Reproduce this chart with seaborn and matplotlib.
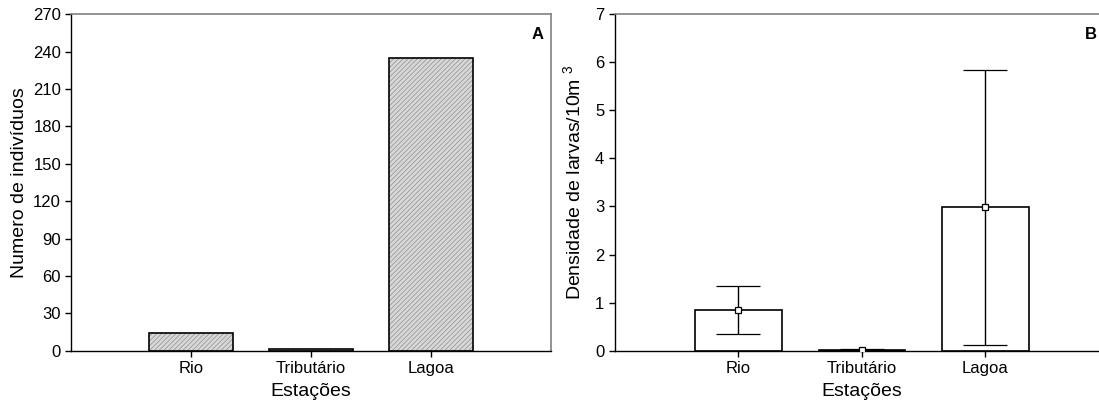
import matplotlib
matplotlib.use("Agg")
import matplotlib.pyplot as plt
import numpy as np
import seaborn as sns

# Data
estacoes = ["Rio", "Tributário", "Lagoa"]
numero_individuos = [14, 1, 235]
densidade_media = [0.84, 0.01, 2.98]
densidade_erro = [0.50, 0.03, 2.86]

sns.set_style("white")
plt.rcParams["font.family"] = ["Liberation Sans", "DejaVu Sans"]
plt.rcParams["mathtext.fontset"] = "custom"
plt.rcParams["mathtext.rm"] = "Liberation Sans"
plt.rcParams["mathtext.it"] = "Liberation Sans"
plt.rcParams["text.color"] = "black"
plt.rcParams["axes.labelcolor"] = "black"
plt.rcParams["hatch.linewidth"] = 0.6

fig = plt.figure(figsize=(10.99, 4.05), dpi=100)
ax_a = fig.add_axes([0.065, 0.134, 0.436, 0.831])
ax_b = fig.add_axes([0.5594, 0.134, 0.4497, 0.831])


def style_axes(ax, yticks):
    ax.set_xlim(-1, 3)
    ax.set_ylim(yticks[0], yticks[-1])
    ax.set_yticks(yticks)
    for side in ["top", "right"]:
        ax.spines[side].set_color("#808080")
        ax.spines[side].set_linewidth(1.2)
    for side in ["left", "bottom"]:
        ax.spines[side].set_color("black")
        ax.spines[side].set_linewidth(1.0)
    ax.tick_params(axis="both", direction="out", length=4, width=1,
                   labelsize=12, colors="black", left=True, bottom=True)
    ax.set_xlabel("Estações", fontsize=14, labelpad=5)


# Panel A: hatched bars
sns.barplot(x=estacoes, y=numero_individuos, color="#d8d8d8", saturation=1,
            width=0.7, linewidth=0, errorbar=None, ax=ax_a)
for p in ax_a.patches:
    p.set_hatch("///////")
    p.set_edgecolor("#9a9a9a")
    p.set_linewidth(0)
sns.barplot(x=estacoes, y=numero_individuos, fill=False, edgecolor="black",
            width=0.7, linewidth=1.2, errorbar=None, ax=ax_a)
style_axes(ax_a, np.arange(0, 271, 30))
ax_a.set_ylabel("Numero de indivíduos", fontsize=14, labelpad=4)
ax_a.text(0.985, 0.963, "A", transform=ax_a.transAxes, ha="right", va="top",
          fontsize=12, fontweight="bold")

# Panel B: white bars with error bars
sns.barplot(x=estacoes, y=densidade_media, color="white", saturation=1,
            width=0.7, edgecolor="black", linewidth=1.2, errorbar=None, ax=ax_b)
ax_b.errorbar(np.arange(len(estacoes)), densidade_media, yerr=densidade_erro,
              fmt="s", color="black", ecolor="black", elinewidth=1,
              capsize=16, capthick=1, markersize=5, markerfacecolor="white",
              markeredgecolor="black", markeredgewidth=0.9, zorder=5)
style_axes(ax_b, np.arange(0, 8, 1))
ax_b.set_ylabel("Densidade de larvas/10m $^3$", fontsize=14, labelpad=8)
ax_b.text(0.976, 0.963, "B", transform=ax_b.transAxes, ha="right", va="top",
          fontsize=12, fontweight="bold")

fig.savefig("out.png", dpi=100)
